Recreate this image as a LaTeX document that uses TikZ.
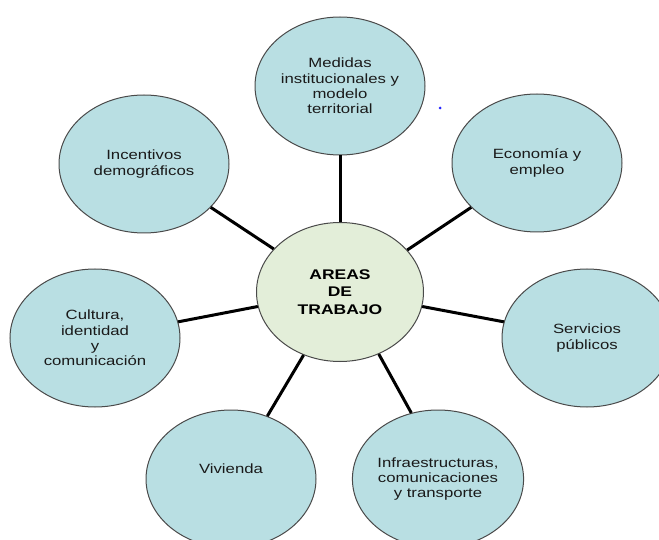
\documentclass[tikz,border=0pt]{standalone}
\usepackage{fontspec}
\setmainfont{Liberation Sans}[FakeStretch=1.25]
\usetikzlibrary{shapes.geometric}
\definecolor{satfill}{HTML}{B9DFE3}
\definecolor{cenfill}{HTML}{E3EED9}
\definecolor{edge}{HTML}{4A4A4A}
\definecolor{txt}{HTML}{1A1A1A}
\tikzset{
  sat/.style={ellipse, draw=edge, line width=1pt, fill=satfill, minimum width=170pt, minimum height=138pt, inner sep=0pt, align=center, text=txt, font=\fontsize{13.4}{15.3}\selectfont},
  cen/.style={ellipse, draw=edge, line width=1pt, fill=cenfill, minimum width=167pt, minimum height=139pt, inner sep=0pt, align=center, text=black, font=\fontsize{14}{17.5}\selectfont\bfseries},
  link/.style={line width=3pt, black}
}
\begin{document}
\begin{tikzpicture}[x=1pt, y=-1pt]
\useasboundingbox (0,0) rectangle (659,540);
\clip (0,0) rectangle (659,540);
\node[cen] (c) at (340,292) {AREAS\\DE\\TRABAJO};
\node[sat] (t) at (340,86) {Medidas\\institucionales y\\modelo\\territorial};
\node[sat] (e) at (537,163) {Economía y\\empleo};
\node[sat] (i) at (144,164) {Incentivos\\demográficos};
\node[sat] (k) at (95,338) {Cultura,\\identidad\\y\\comunicación};
\node[sat] (s) at (587,338) {Servicios\\públicos};
\node[sat, label={[yshift=10pt, text=txt, font=\fontsize{13.4}{15.3}\selectfont]center:Vivienda}] (v) at (231,479) {};
\node[sat] (f) at (438,479) {Infraestructuras,\\comunicaciones\\y transporte};
\node[circle, fill=blue!85, inner sep=0pt, minimum size=3pt] (dot) at (440,108) {};
\draw[link] (c.90) -- (t.-90);
\draw[link] (c.32.7) -- (e.214.7);
\draw[link] (c.147.1) -- (i.-33.1);
\draw[link] (c.190.4) -- (k.11);
\draw[link] (c.-10.2) -- (s.169.2);
\draw[link] (c.240.3) -- (v.60);
\draw[link] (c.-58.9) -- (f.112);
\end{tikzpicture}
\end{document}
